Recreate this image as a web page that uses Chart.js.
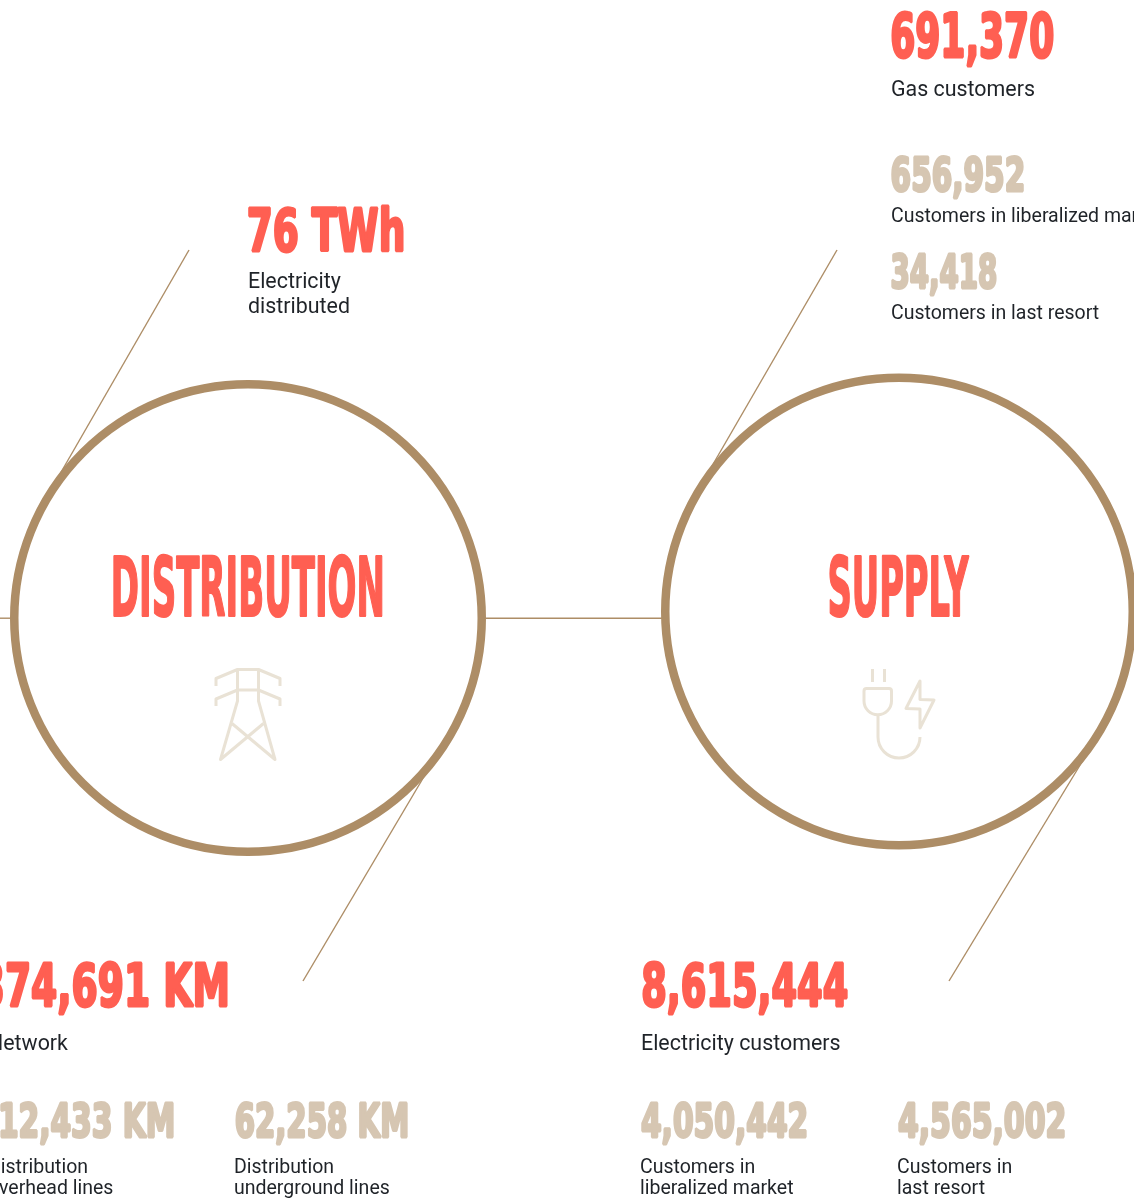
<!DOCTYPE html>
<html>
<head>
<meta charset="utf-8">
<title>Distribution and supply</title>
<script src="https://cdn.jsdelivr.net/npm/chart.js@4/dist/chart.umd.min.js"></script>
<style>
  html, body { margin: 0; padding: 0; background: #fff; overflow: hidden; }
  canvas { display: block; }
</style>
</head>
<body>
<canvas id="chartHub" width="1134" height="1200"></canvas>
<script>
/* ---------- DATA ---------- */
const hubNames     = ['DISTRIBUTION', 'SUPPLY'];
const hubX         = [248, 899];
const hubY         = [618, 611.5];

const linkXs = [[189, 60], [303, 435], [837, 712], [949, 1088], [486, 662], [0, 11]];
const linkYs = [[250, 474], [981, 758], [250, 466], [981, 752], [618.2, 618.2], [618.2, 618.2]];

const mainNumbers  = ['691,370', '76 TWh', '374,691 KM', '8,615,444'];
const mainCaptions = [['Gas customers'], ['Electricity', 'distributed'], ['Network'], ['Electricity customers']];

const subNumbers   = ['656,952', '34,418', '312,433 KM', '62,258 KM', '4,050,442', '4,565,002'];
const subCaptions  = [
  ['Customers in liberalized market'], ['Customers in last resort'],
  ['Distribution', 'overhead lines'], ['Distribution', 'underground lines'],
  ['Customers in', 'liberalized market'], ['Customers in', 'last resort']
];

/* ---------- STYLE ---------- */
const COLORS = { ring: '#ad8d66', red: '#ff5f52', sand: '#d6c6b2', icon: '#e9e2d5', text: '#1f2328' };
const HEAVY  = '"DejaVu Sans Condensed", "DejaVu Sans", sans-serif';

// [left, right, top of digits, bottom of digits]
const mainBoxes = [[891, 1054, 11, 58], [248, 404, 206, 252], [-20, 228, 962, 1007], [642, 848, 962, 1007]];
const subBoxes  = [[891, 1024, 156, 192], [891, 997, 253, 289], [-22, 174, 1102, 1138], [235, 408, 1102, 1138], [641, 807, 1102, 1138], [898, 1065, 1102, 1138]];
const hubBoxes  = [[113, 383, 556, 617], [829, 970, 556, 617]];

// [x, first baseline]
const mainCaptionPos = [[891, 96], [248, 288], [-12, 1050], [641, 1050]];
const subCaptionPos  = [[891, 222], [891, 319], [-12, 1173], [234, 1173], [640, 1173], [897, 1173]];

/* ---------- DRAW HELPERS ---------- */
function drawHeavy(ctx, text, box, color, weight) {
  ctx.save();
  ctx.font = 'bold 100px ' + HEAVY;
  ctx.textBaseline = 'alphabetic';
  ctx.textAlign = 'left';
  const m = ctx.measureText(text);
  const cap = ctx.measureText('H').actualBoundingBoxAscent;
  const w = m.actualBoundingBoxRight + m.actualBoundingBoxLeft;
  const sx = (box[1] - box[0] - weight) / w;
  const sy = (box[3] - box[2] - weight) / cap;
  ctx.translate(box[0] + weight / 2 + m.actualBoundingBoxLeft * sx, box[3] - weight / 2);
  ctx.scale(sx, sy);
  ctx.fillStyle = color;
  ctx.strokeStyle = color;
  ctx.lineJoin = 'bevel';
  ctx.lineWidth = weight / ((sx + sy) / 2);
  ctx.fillText(text, 0, 0);
  ctx.strokeText(text, 0, 0);
  ctx.restore();
}

function drawCaption(ctx, lines, pos, size, lead) {
  ctx.font = '400 ' + size + 'px Roboto, sans-serif';
  ctx.fillStyle = COLORS.text;
  ctx.textBaseline = 'alphabetic';
  ctx.textAlign = 'left';
  lines.forEach((line, i) => ctx.fillText(line, pos[0], pos[1] + i * lead));
}

function polyline(ctx, pts) {
  ctx.beginPath();
  pts.forEach((p, i) => i ? ctx.lineTo(p[0], p[1]) : ctx.moveTo(p[0], p[1]));
  ctx.stroke();
}

function drawTower(ctx) {
  polyline(ctx, [[216, 686], [216, 678.5], [237.5, 669.5], [258.5, 669.5], [280, 678.5], [280, 686]]);
  polyline(ctx, [[216, 706], [216, 699], [237.5, 690], [258.5, 690], [280, 699], [280, 706]]);
  polyline(ctx, [[237.5, 669.5], [237.5, 701], [220.5, 759.5], [263.5, 723.5]]);
  polyline(ctx, [[258.5, 669.5], [258.5, 701], [275, 759.5], [232, 723.5]]);
}

function drawPlug(ctx) {
  polyline(ctx, [[872.5, 669], [872.5, 682]]);
  polyline(ctx, [[884.5, 669], [884.5, 682]]);
  ctx.beginPath();
  ctx.moveTo(864, 691);
  ctx.quadraticCurveTo(864, 688.5, 866.5, 688.5);
  ctx.lineTo(889, 688.5);
  ctx.quadraticCurveTo(891.5, 688.5, 891.5, 691);
  ctx.lineTo(891.5, 701);
  ctx.arc(877.75, 701, 13.75, 0, Math.PI);
  ctx.closePath();
  ctx.stroke();
  ctx.beginPath();
  ctx.moveTo(878, 714.5);
  ctx.lineTo(878, 737);
  ctx.arc(899, 737, 21, Math.PI, 0, true);
  ctx.stroke();
  ctx.beginPath();
  [[920, 681], [906, 708.5], [920, 709], [920, 728], [934, 700], [920, 699.5]].forEach((p, i) => i ? ctx.lineTo(p[0], p[1]) : ctx.moveTo(p[0], p[1]));
  ctx.closePath();
  ctx.stroke();
}

/* ---------- TEXT + ICON PLUGIN ---------- */
const overlay = {
  id: 'overlay',
  afterDraw(chart) {
    const ctx = chart.ctx;
    ctx.save();
    ctx.strokeStyle = COLORS.icon;
    ctx.lineWidth = 3;
    ctx.lineJoin = 'round';
    drawTower(ctx);
    drawPlug(ctx);
    ctx.restore();

    hubNames.forEach((t, i) => drawHeavy(ctx, t, hubBoxes[i], COLORS.red, 1.5));
    mainNumbers.forEach((t, i) => drawHeavy(ctx, t, mainBoxes[i], COLORS.red, 2.5));
    subNumbers.forEach((t, i) => drawHeavy(ctx, t, subBoxes[i], COLORS.sand, 2.5));

    ctx.save();
    mainCaptions.forEach((l, i) => drawCaption(ctx, l, mainCaptionPos[i], 21.4, 25));
    subCaptions.forEach((l, i) => drawCaption(ctx, l, subCaptionPos[i], 19.5, 21));
    ctx.restore();
  }
};

/* ---------- CHART ---------- */
const linkSets = linkXs.map((xs, i) => ({
  type: 'scatter',
  showLine: true,
  data: xs.map((x, j) => ({ x, y: linkYs[i][j] })),
  borderColor: COLORS.ring,
  borderWidth: 1.4,
  pointRadius: 0,
  order: 2
}));

const hubSet = {
  type: 'scatter',
  data: hubX.map((x, i) => ({ x, y: hubY[i] })),
  pointRadius: 233.75,
  pointBorderWidth: 8.5,
  pointBackgroundColor: '#fff',
  pointBorderColor: COLORS.ring,
  order: 1
};

new Chart(document.getElementById('chartHub'), {
  type: 'scatter',
  data: { datasets: [hubSet, ...linkSets] },
  options: {
    responsive: false,
    animation: false,
    layout: { padding: 0, autoPadding: false },
    plugins: { legend: { display: false }, tooltip: { enabled: false } },
    scales: {
      x: { type: 'linear', min: 0, max: 1134, display: false },
      y: { type: 'linear', min: 0, max: 1200, reverse: true, display: false }
    }
  },
  plugins: [overlay]
});
</script>
</body>
</html>
